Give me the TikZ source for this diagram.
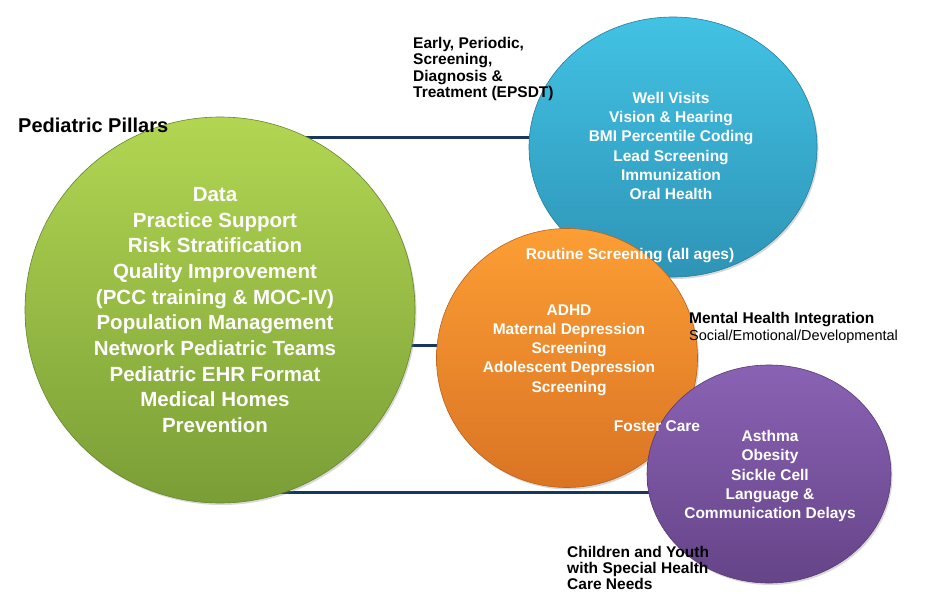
\documentclass[tikz,border=0pt]{standalone}
\usepackage{fontspec}
\setmainfont{Liberation Sans}
\usetikzlibrary{shapes.geometric,shadows}
\pgfdeclarelayer{bg}
\pgfsetlayers{bg,main}
\definecolor{navy}{RGB}{23,55,94}
\definecolor{gtop}{RGB}{178,214,82}
\definecolor{gbot}{RGB}{122,158,54}
\definecolor{btop}{RGB}{66,194,228}
\definecolor{bbot}{RGB}{46,148,182}
\definecolor{otop}{RGB}{252,158,52}
\definecolor{obot}{RGB}{218,116,36}
\definecolor{ptop}{RGB}{138,98,180}
\definecolor{pbot}{RGB}{102,68,136}
\begin{document}
\begin{tikzpicture}[x=1pt,y=-1pt,
  bubble/.style={ellipse, inner sep=0pt, line width=0.6pt,
    drop shadow={opacity=0.3, shadow xshift=1.5pt, shadow yshift=-2pt}},
  conn/.style={draw=navy, line width=3pt},
  wtxt/.style={text=white, align=center, inner sep=0pt, font=\bfseries\fontsize{15.5}{19.2}\selectfont},
  btxt/.style={text=black, align=left, inner sep=0pt, anchor=west, font=\bfseries\fontsize{15.5}{16.3}\selectfont}]
\useasboundingbox (0,0) rectangle (928,607);
% circles
\node[bubble, draw=gbot!85!black, top color=gtop, bottom color=gbot, minimum width=390pt, minimum height=386pt] (green) at (220,310) {};
\node[bubble, draw=bbot!85!black, top color=btop, bottom color=bbot, minimum width=288pt, minimum height=260pt] (blue) at (673,147) {};
\node[bubble, draw=obot!85!black, top color=otop, bottom color=obot, minimum width=261pt, minimum height=259pt] (orange) at (567,358) {};
\node[bubble, draw=pbot!85!black, top color=ptop, bottom color=pbot, minimum width=244pt, minimum height=218pt] (purple) at (769,474) {};
% connectors behind
\begin{pgfonlayer}{bg}
  \fill[white] (0,0) rectangle (928,607);
  \draw[conn] (green.center |- 0,137) -- (blue.center |- 0,137);
  \draw[conn] (green.center |- 0,345) -- (orange.center |- 0,345);
  \draw[conn] (green.center |- 0,492) -- (purple.center |- 0,492);
\end{pgfonlayer}
% texts
\node[btxt, font=\bfseries\fontsize{20}{24}\selectfont] (title) at (18,125) {Pediatric Pillars};
\node[wtxt, font=\bfseries\fontsize{20.5}{25.7}\selectfont] (gtext) at (215,310)
  {Data\\Practice Support\\Risk Stratification\\Quality Improvement\\(PCC training \& MOC-IV)\\Population Management\\Network Pediatric Teams\\Pediatric EHR Format\\Medical Homes\\Prevention};
\node[btxt] (epsdt) at (413,69) {Early, Periodic,\\Screening,\\Diagnosis \&\\Treatment (EPSDT)};
\node[wtxt] (btext) at (671,146) {Well Visits\\Vision \& Hearing\\BMI Percentile Coding\\Lead Screening\\Immunization\\Oral Health};
\node[wtxt] (routine) at (630,256) {Routine Screening (all ages)};
\node[wtxt] (otext) at (569,350) {ADHD\\Maternal Depression\\Screening\\Adolescent Depression\\Screening};
\node[wtxt] (foster) at (657,426) {Foster Care};
\node[btxt] (mhi) at (689,320) {Mental Health Integration};
\node[btxt, font=\fontsize{14.5}{16}\selectfont] (sed) at (689,337) {Social/Emotional/Developmental};
\node[wtxt] (ptext) at (770,476) {Asthma\\Obesity\\Sickle Cell\\Language \&\\Communication Delays};
\node[btxt] (cyshcn) at (567,568) {Children and Youth\\with Special Health\\Care Needs};
\end{tikzpicture}
\end{document}
